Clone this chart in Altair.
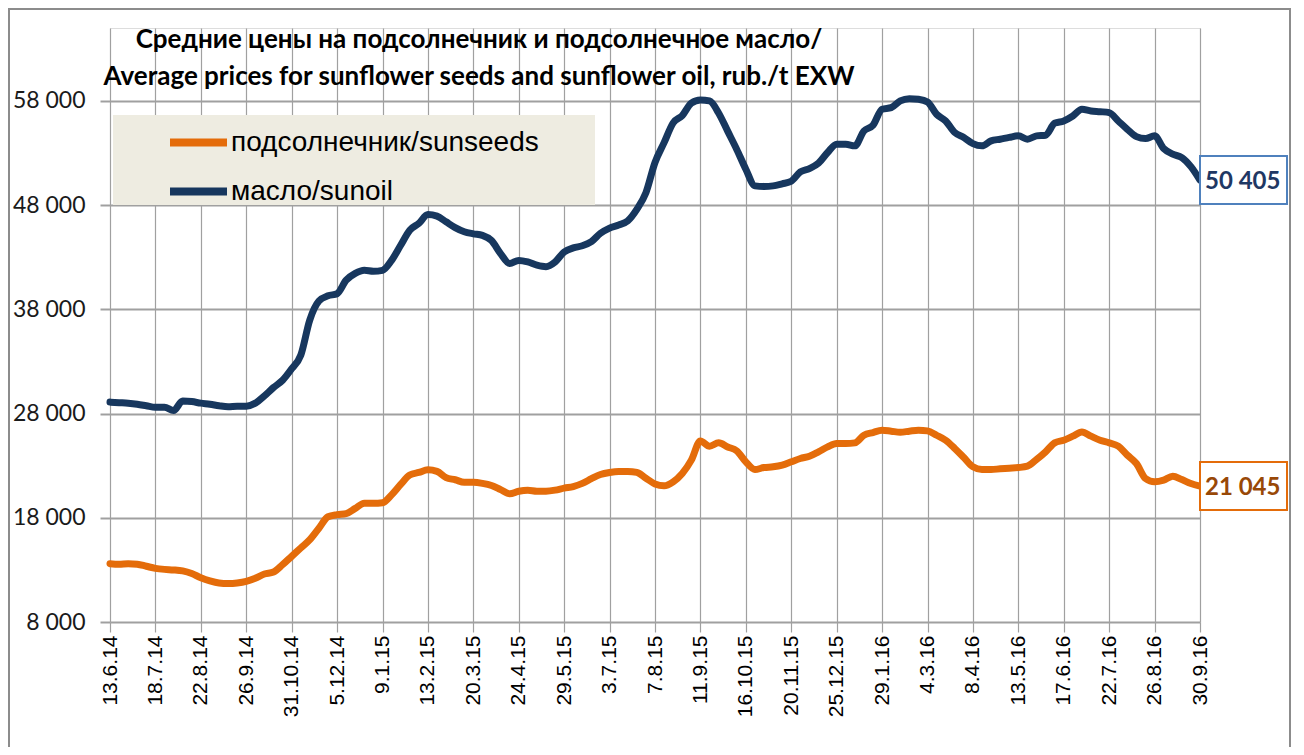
import altair as alt
import pandas as pd

x_labels = ["13.6.14", "18.7.14", "22.8.14", "26.9.14", "31.10.14", "5.12.14",
            "9.1.15", "13.2.15", "20.3.15", "24.4.15", "29.5.15", "3.7.15",
            "7.8.15", "11.9.15", "16.10.15", "20.11.15", "25.12.15", "29.1.16",
            "4.3.16", "8.4.16", "13.5.16", "17.6.16", "22.7.16", "26.8.16", "30.9.16"]

y_ticks = [8000, 18000, 28000, 38000, 48000, 58000]

series_names = ["подсолнечник/sunseeds", "масло/sunoil"]
line_colors = ["#E46C0A", "#17375E"]
box_colors = ["#E46C0A", "#4F81BD"]
value_colors = ["#984807", "#1F3864"]

sunseeds = [
    13600, 13550, 13600, 13550, 13350, 13150, 13050, 13000, 12900, 12650,
    12250, 11950, 11750, 11700, 11750, 11900, 12200, 12600, 12800, 13500,
    14300, 15100, 15900, 17000, 18100, 18300,
    18400, 18900, 19400, 19400, 19450, 20200, 21200, 22100, 22350, 22600,
    22450, 21850, 21650, 21400, 21400, 21300, 21100, 20700, 20300, 20550,
    20650, 20550, 20550, 20650, 20850,
    21000, 21300, 21750, 22150, 22350, 22450, 22450, 22350, 21800, 21250,
    21070, 21450, 22250, 23530, 25380, 24870, 25190, 24800, 24420, 23370,
    22630, 22820, 22890, 23050, 23370, 23690, 23910, 24330, 24800, 25120,
    25120, 25190, 25920, 26180, 26400, 26310, 26210, 26310, 26400, 26340,
    25920, 25440, 24650, 23780, 22890, 22630, 22630, 22700, 22760, 22820,
    22950, 23590, 24330, 25190, 25440, 25830, 26240, 25830, 25440, 25190,
    24870, 24010, 23210, 21770, 21450, 21610, 21990, 21670, 21290, 21045,
]

sunoil = [
    29100, 29050, 29000, 28900, 28750, 28600, 28600, 28300, 29200, 29150,
    29000, 28900, 28750, 28650, 28700, 28700, 29000, 29700, 30500, 31200,
    32300, 33600, 37000, 38800, 39300, 39500,
    40800, 41450, 41750, 41650, 41750, 42700, 44150, 45600, 46250, 47100,
    46950, 46400, 45850, 45450, 45250, 45100, 44600, 43350, 42400, 42700,
    42550, 42250, 42100, 42550, 43500,
    43900, 44100, 44500, 45300, 45800, 46100, 46500, 47600, 49200, 52100,
    54000, 55900, 56600, 57800, 58100, 58000, 56850, 55100, 53350, 51450,
    49850, 49800, 49850, 50050, 50300,
    51190, 51510, 52030, 53050, 53850, 53850, 53690, 55120, 55670, 57200,
    57360, 58000, 58220, 58160, 57900, 56720, 56080, 54970, 54490, 53900,
    53690, 54170, 54330, 54500,
    54650, 54330, 54650, 54710, 55860, 56080, 56560, 57200, 57040, 56970,
    56880, 56080, 55280, 54580, 54390, 54650, 53430, 52890, 52570, 51700,
    50405,
]

n = len(sunseeds)
df = pd.DataFrame({
    "week": list(range(n)) * 2,
    "price": sunseeds + sunoil,
    "series": [series_names[0]] * n + [series_names[1]] * n,
})
last = df[df["week"] == n - 1].copy()

W, H = 1090, 594
grid_gray = "#A0A0A0"
label_js = "[" + ",".join("'" + s + "'" for s in x_labels) + "]"

x_scale = alt.Scale(domain=[0, n - 1], nice=False, zero=False)
y_scale = alt.Scale(domain=[8000, 65000], nice=False, zero=False)

x_axis = alt.Axis(
    values=list(range(0, n, 5)),
    labelExpr=label_js + "[round(datum.value/5)]",
    labelAngle=270, labelAlign="right", labelBaseline="middle",
    labelFont="Liberation Sans", labelFontSize=21, labelColor="#000000",
    labelPadding=3, tickSize=10, tickColor=grid_gray, tickWidth=1.2,
    grid=True, gridColor=grid_gray, gridWidth=1.2, domain=False, title=None,
)
y_axis = alt.Axis(
    values=y_ticks,
    labelExpr="replace(format(datum.value, ','), ',', ' ')",
    labelFont="Lato", labelFontSize=23, labelColor="#1a1a1a",
    labelPadding=15, tickSize=10, tickColor=grid_gray, tickWidth=2,
    grid=True, gridColor=grid_gray, gridWidth=2, domain=False, title=None,
)

frame = alt.Chart(df).mark_rect(filled=False, stroke="#8C8C8C", strokeWidth=2).encode(
    x=alt.value(-101), x2=alt.value(1180), y=alt.value(-19), y2=alt.value(735)
)

legend_bg = alt.Chart(df).mark_rect(color="#EEECE1").encode(
    x=alt.value(3), x2=alt.value(485), y=alt.value(87), y2=alt.value(177)
)

lines = alt.Chart(df).mark_line(strokeWidth=7, strokeJoin="round", strokeCap="round",
                                interpolate="monotone").encode(
    x=alt.X("week:Q", scale=x_scale, axis=x_axis),
    y=alt.Y("price:Q", scale=y_scale, axis=y_axis),
    color=alt.Color("series:N", sort=series_names,
                    scale=alt.Scale(domain=series_names, range=line_colors),
                    legend=alt.Legend(
                        orient="none", legendX=56, legendY=82, title=None,
                        symbolType="stroke", symbolStrokeWidth=8, symbolSize=3249,
                        labelFont="Liberation Sans", labelFontSize=28,
                        labelColor="#000000", labelOffset=0, padding=0,
                        rowPadding=-20, labelLimit=600,
                    )),
    detail="series:N",
)

boxes = alt.Chart(last).mark_point(
    shape="M0,-1H3.625V1H0Z", size=2304, filled=True, fill="white",
    strokeWidth=2, opacity=1,
).encode(
    x=alt.X("week:Q", scale=x_scale),
    y=alt.Y("price:Q", scale=y_scale),
    stroke=alt.Stroke("series:N", scale=alt.Scale(domain=series_names, range=box_colors),
                      legend=None),
)

values = alt.Chart(last).transform_calculate(
    label="replace(format(datum.price, ','), ',', ' ')"
).mark_text(align="left", baseline="middle", dx=5, dy=2, font="Lato",
            fontWeight="bold", fontSize=24).encode(
    x=alt.X("week:Q", scale=x_scale),
    y=alt.Y("price:Q", scale=y_scale),
    text="label:N",
    color=alt.Color("series:N", scale=alt.Scale(domain=series_names, range=value_colors),
                    legend=None),
)

chart = alt.layer(frame, legend_bg, lines, boxes, values).resolve_scale(
    color="independent"
).properties(
    width=W, height=H,
    title=alt.TitleParams(
        text=["Средние цены на подсолнечник и подсолнечное масло/",
              "Average prices for sunflower seeds and sunflower oil, rub./t EXW"],
        font="Lato", fontSize=26, fontWeight="bold", color="#000000",
        anchor="middle", dx=-176, dy=82, lineHeight=37, offset=0,
    ),
    autosize=alt.AutoSizeParams(type="none"),
    padding={"left": 102, "top": 20, "right": 96, "bottom": 125},
).configure_view(stroke=None).configure(background="white")

chart.save("out.html", embed_options={"renderer": "svg", "actions": False})
